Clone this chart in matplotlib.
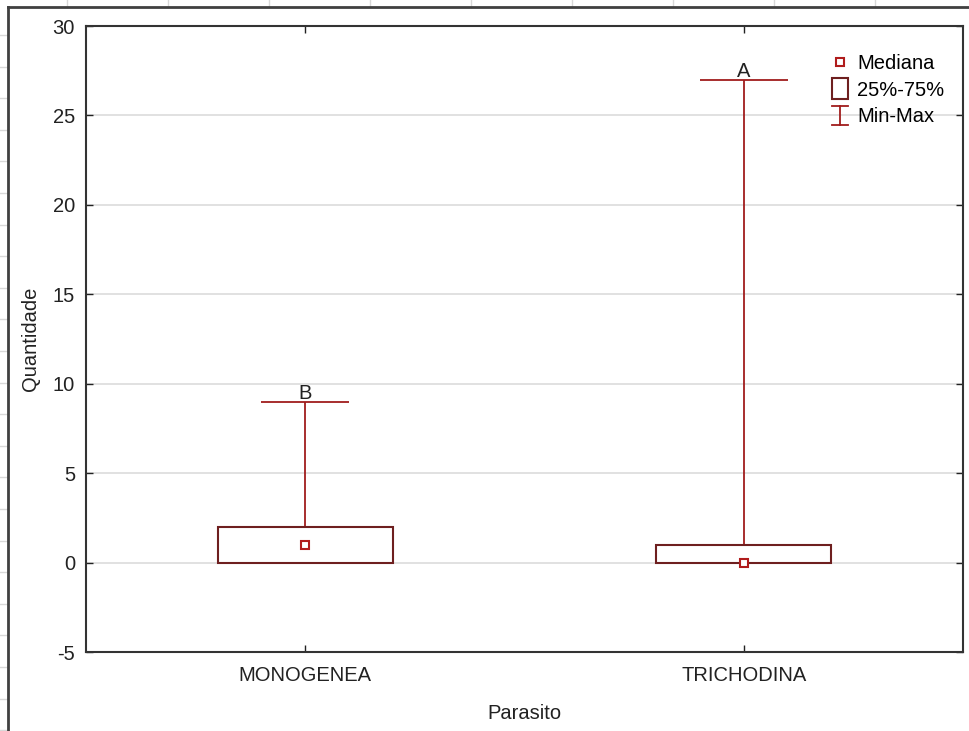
import matplotlib
matplotlib.use("Agg")
import matplotlib.pyplot as plt
from matplotlib.lines import Line2D
from matplotlib.patches import Rectangle
from matplotlib.legend_handler import HandlerPatch, HandlerBase

plt.rcParams['font.family'] = ['Liberation Sans', 'DejaVu Sans']
plt.rcParams['axes.unicode_minus'] = False

categories = ["MONOGENEA", "TRICHODINA"]
medians = [1, 0]
q25 = [0, 0]
q75 = [2, 1]
mins = [0, 0]
maxs = [9, 27]
letters = ["B", "A"]
yticks = [-5, 0, 5, 10, 15, 20, 25, 30]

W, H = 969, 731
FS = 14.5
fig = plt.figure(figsize=(W / 100, H / 100), dpi=100)
fig.patch.set_facecolor("white")

# spreadsheet background lines and outer frame
for k in range(10):
    x = 67 + 101 * k
    fig.add_artist(Line2D([x / W, x / W], [1, 1 - 7 / H], color="#d8d8d8", lw=1))
for k in range(23):
    y = 35 + 31.6 * k
    fig.add_artist(Line2D([0, 8 / W], [1 - y / H, 1 - y / H], color="#d8d8d8", lw=1))
fig.add_artist(Line2D([8 / W, 8 / W], [0, 1 - 7 / H], color="#404040", lw=2))
fig.add_artist(Line2D([8 / W, 1], [1 - 7 / H, 1 - 7 / H], color="#404040", lw=2))

ax = fig.add_axes([86 / W, (H - 652) / H, 877 / W, 626 / H])
ax.set_xlim(-0.5, 1.5)
ax.set_ylim(-5, 30)

box_col = "#6e1f1f"
wh_col = "#a01c1c"
med_col = "#b01c1c"
bw = 0.4
cw = 0.2
xs = list(range(len(categories)))

for i in xs:
    ax.vlines(i, q75[i], maxs[i], color=wh_col, lw=1.3, zorder=3)
    ax.vlines(i, mins[i], q25[i], color=wh_col, lw=1.3, zorder=3)
    ax.hlines([maxs[i]], i - cw / 2, i + cw / 2, color=wh_col, lw=1.3, zorder=3)
    ax.add_patch(Rectangle((i - bw / 2, q25[i]), bw, q75[i] - q25[i],
                           facecolor="white", edgecolor=box_col, lw=1.5, zorder=4))
    ax.plot(i, medians[i], marker="s", ms=6, mfc="white", mec=med_col, mew=1.5,
            ls="none", zorder=5)
    ax.text(i, maxs[i] - 0.1, letters[i], ha="center", va="bottom", fontsize=FS,
            color="#222222", zorder=6)

ax.set_yticks(yticks)
ax.set_xticks(xs)
ax.set_xticklabels(categories)
ax.tick_params(direction="in", length=5, labelsize=FS, top=True, right=True,
               width=1, colors="#222222")
ax.tick_params(axis="y", pad=8)
ax.tick_params(axis="x", pad=10)
ax.grid(axis="y", color="#dcdcdc", lw=1.2, zorder=0)
ax.set_axisbelow(True)
for s in ax.spines.values():
    s.set_color("#333333")
    s.set_linewidth(1.5)

ax.set_ylabel("Quantidade", fontsize=FS, labelpad=9, color="#222222")
ax.set_xlabel("Parasito", fontsize=FS, labelpad=14, color="#222222")


# legend
class IBar:
    pass


class HandlerIBar(HandlerBase):
    def create_artists(self, legend, orig_handle, xdescent, ydescent, width, height,
                       fontsize, trans):
        cx = width / 2 - xdescent
        cy = height / 2 - ydescent
        hh = 7.0
        cwid = 6.0
        arts = [
            Line2D([cx, cx], [cy - hh, cy + hh]),
            Line2D([cx - cwid, cx + cwid], [cy + hh, cy + hh]),
            Line2D([cx - cwid, cx + cwid], [cy - hh, cy - hh]),
        ]
        for a in arts:
            a.set_color(wh_col)
            a.set_linewidth(1.3)
            a.set_transform(trans)
        return arts


def box_patch(legend, orig_handle, xdescent, ydescent, width, height, fontsize):
    w = 11.5
    h = 15
    return Rectangle((width / 2 - w / 2 - xdescent, height / 2 - h / 2 - ydescent), w, h)


h_med = Line2D([], [], marker="s", ms=6, mfc="white", mec=med_col, mew=1.5, ls="none")
h_box = Rectangle((0, 0), 1, 1, facecolor="white", edgecolor=box_col, lw=1.5)
h_bar = IBar()

leg = ax.legend([h_med, h_box, h_bar], ["Mediana", "25%-75%", "Min-Max"],
                handler_map={Rectangle: HandlerPatch(patch_func=box_patch),
                             IBar: HandlerIBar()},
                loc="upper left", bbox_to_anchor=(744 / 877, 1 - 28 / 626), frameon=False,
                fontsize=FS, handlelength=1.0, handletextpad=0.35, labelspacing=0.38,
                borderaxespad=0, borderpad=0)

fig.savefig("out.png", dpi=100)
